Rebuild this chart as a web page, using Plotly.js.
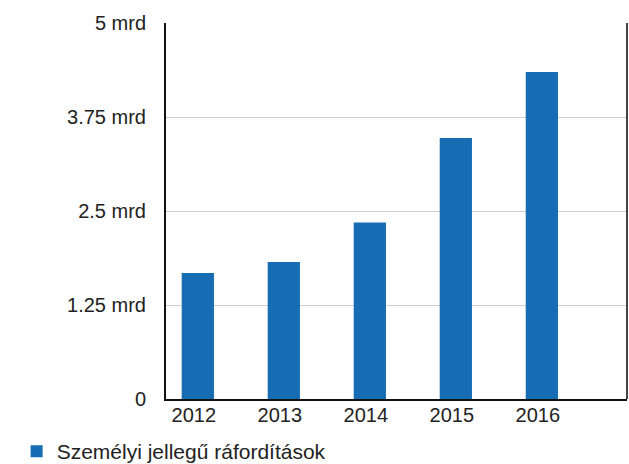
<!DOCTYPE html>
<html>
<head>
<meta charset="utf-8">
<script src="https://cdn.plot.ly/plotly-3.0.1.min.js"></script>
<style>html,body{margin:0;padding:0;background:#fdfefd;}#chart{width:629px;height:464px;}</style>
</head>
<body>
<div id="chart"></div>
<script>
const categories = ["2012", "2013", "2014", "2015", "2016"];
const values = [1.677e9, 1.823e9, 2.346e9, 3.47e9, 4.35e9];
const seriesName = "Személyi jellegű ráfordítások";
const yTickVals = [0, 1.25e9, 2.5e9, 3.75e9, 5e9];
const yTickText = ["0", "1.25 mrd", "2.5 mrd", "3.75 mrd", "5 mrd"];

const font = {family: "Liberation Sans, Arial, sans-serif", size: 20, color: "#222"};

Plotly.newPlot("chart", [{
  type: "bar",
  x: categories,
  y: values,
  name: seriesName,
  width: 0.375,
  marker: {color: "#166db3"},
  showlegend: true
}], {
  width: 629, height: 464,
  margin: {l: 166, r: 2, t: 23, b: 64.5, pad: 0, autoexpand: false},
  paper_bgcolor: "#fdfefd",
  plot_bgcolor: "#fdfefd",
  font: font,
  showlegend: true,
  xaxis: {
    type: "category",
    range: [-0.37, 4.99],
    showline: true, linecolor: "#111", linewidth: 2,
    showgrid: false, zeroline: false,
    ticks: "", tickfont: font, ticklabelstandoff: -3, ticklabelshift: -4
  },
  yaxis: {
    range: [0, 5e9],
    tickvals: yTickVals, ticktext: yTickText,
    showline: true, linecolor: "#111", linewidth: 2,
    showgrid: true, gridcolor: "#cfd0cf", gridwidth: 1,
    zeroline: false,
    ticks: "", tickfont: font, ticklabelstandoff: 14
  },
  shapes: [{type: "line", xref: "paper", yref: "paper", x0: 1, x1: 1, y0: 0, y1: 1,
            line: {color: "#444", width: 2}}],
  legend: {
    orientation: "h", x: -0.324, xanchor: "left", y: -0.14, yanchor: "middle",
    font: {family: font.family, size: 21, color: "#222"}, bgcolor: "rgba(0,0,0,0)"
  }
}, {displayModeBar: false, staticPlot: true});
</script>
</body>
</html>
